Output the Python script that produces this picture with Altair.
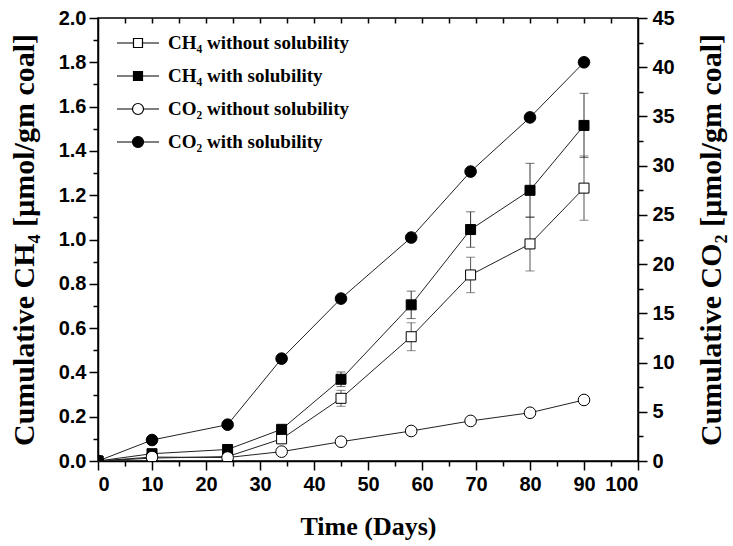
import altair as alt
import pandas as pd

# ---- data ----
days = [0, 10, 24, 34, 45, 58, 69, 80, 90]
ch4_without = [0, 0.013, 0.02, 0.10, 0.283, 0.561, 0.840, 0.980, 1.232]
ch4_without_err = [0, 0, 0, 0, 0.036, 0.063, 0.080, 0.122, 0.145]
ch4_with = [0, 0.033, 0.052, 0.143, 0.369, 0.705, 1.045, 1.222, 1.515]
ch4_with_err = [0, 0, 0, 0, 0.033, 0.062, 0.080, 0.122, 0.145]
co2_without = [0, 0.4, 0.35, 0.95, 1.96, 3.05, 4.07, 4.9, 6.2]
co2_with = [0, 2.13, 3.69, 10.4, 16.5, 22.7, 29.4, 34.9, 40.5]

series_names = ["CH\u2084 without solubility", "CH\u2084 with solubility",
                "CO\u2082 without solubility", "CO\u2082 with solubility"]
x_major = list(range(0, 101, 10))
x_minor = list(range(5, 100, 10))
x_top = list(range(5, 100, 5))
ch4_major = [round(i * 0.2, 1) for i in range(11)]
ch4_minor = [round(0.1 + i * 0.2, 1) for i in range(10)]
co2_major = list(range(0, 46, 5))
co2_minor = [2.5 + 5 * i for i in range(9)]

SANS = "Liberation Sans"
SERIF = "Liberation Serif"


def frame(vals, errs=None):
    df = pd.DataFrame({"day": days, "v": vals})
    if errs is not None:
        df["err"] = errs
        df["lo"] = df["v"] - df["err"]
        df["hi"] = df["v"] + df["err"]
        df = df[df["err"] > 0]
    return df


xscale = alt.Scale(domain=[0, 100], nice=False, zero=False)
y1scale = alt.Scale(domain=[0, 2], nice=False, zero=False)
y2scale = alt.Scale(domain=[0, 45], nice=False, zero=False)

x_none = alt.X("day:Q", scale=xscale, axis=None)

ax_bottom = alt.Axis(values=x_major, orient="bottom", tickSize=9, labelPadding=4,
                     labelFont=SANS, labelFontSize=20, labelFontWeight="bold",
                     title="Time (Days)", titleFont=SERIF, titleFontSize=26,
                     titleFontWeight="bold", titlePadding=19, format="d")
ax_bottom_minor = alt.Axis(values=x_minor, orient="bottom", tickSize=5, labels=False,
                           domain=False, title=None)
ax_top = alt.Axis(values=x_top, orient="top", tickSize=5, offset=-5, labels=False,
                  domain=False, title=None)
ax_left = alt.Axis(values=ch4_major, orient="left", tickSize=9, labelPadding=3,
                   labelFont=SANS, labelFontSize=20, labelFontWeight="bold", format=".1f",
                   title="Cumulative CH\u2084 [\u00b5mol/gm coal]", titleFont=SERIF,
                   titleFontSize=30, titleFontWeight="bold", titlePadding=19)
ax_left_minor = alt.Axis(values=ch4_minor, orient="left", tickSize=5, labels=False,
                         domain=False, title=None)
ax_right = alt.Axis(values=co2_major, orient="right", tickSize=9, labelPadding=5,
                    labelFont=SANS, labelFontSize=20, labelFontWeight="bold", format="d",
                    title="Cumulative CO\u2082 [\u00b5mol/gm coal]", titleFont=SERIF,
                    titleFontSize=30, titleFontWeight="bold", titlePadding=22,
                    titleAngle=270, titleBaseline="top")
ax_right_minor = alt.Axis(values=co2_minor, orient="right", tickSize=5, labels=False,
                          domain=False, title=None)

LINE = dict(color="#222222", strokeWidth=1)


def line(df, xaxis, yscale, yaxis):
    return alt.Chart(df).mark_line(**LINE).encode(
        x=alt.X("day:Q", scale=xscale, axis=xaxis),
        y=alt.Y("v:Q", scale=yscale, axis=yaxis),
    )


def points(df, shape, fill, size, yscale, xaxis=None):
    return alt.Chart(df).mark_point(shape=shape, filled=True, fill=fill, stroke="black",
                                    strokeWidth=1, size=size, opacity=1, clip=True).encode(
        x=alt.X("day:Q", scale=xscale, axis=xaxis),
        y=alt.Y("v:Q", scale=yscale, axis=None),
    )


def errbar(df, color):
    return alt.Chart(df).mark_errorbar(ticks={"size": 9}, color=color, thickness=1).encode(
        x=x_none,
        y=alt.Y("lo:Q", scale=y1scale, axis=None, title=None),
        y2="hi:Q",
    )


d_ch4_wo = frame(ch4_without)
d_ch4_w = frame(ch4_with)
e_ch4_wo = frame(ch4_without, ch4_without_err)
e_ch4_w = frame(ch4_with, ch4_with_err)
d_co2_wo = frame(co2_without)
d_co2_w = frame(co2_with)

ch4 = alt.layer(
    line(d_ch4_wo, ax_bottom, y1scale, ax_left),
    line(d_ch4_w, ax_bottom_minor, y1scale, ax_left_minor),
    errbar(e_ch4_wo, "#555555"),
    errbar(e_ch4_w, "#333333"),
    points(d_ch4_wo, "square", "white", 100, y1scale, xaxis=ax_top),
    points(d_ch4_w, "square", "black", 100, y1scale),
).resolve_axis(x="independent", y="independent")

co2 = alt.layer(
    line(d_co2_wo, None, y2scale, ax_right),
    line(d_co2_w, None, y2scale, ax_right_minor),
    points(d_co2_wo, "circle", "white", 135, y2scale),
    points(d_co2_w, "circle", "black", 135, y2scale),
).resolve_axis(x="independent", y="independent")

# legend symbols: line - marker - line (custom symbol paths)
sq = "M-2.1,0H-0.45M0.45,0H2.1M-0.45,-0.45H0.45V0.45H-0.45Z"
ci = ("M-2.1,0H-0.55M0.55,0H2.1M-0.55,0A0.55,0.55,0,1,0,0.55,0"
      "A0.55,0.55,0,1,0,-0.55,0Z")
legend_shapes = [sq, sq, ci, ci]
legend_fills = ["white", "black", "white", "black"]
legend_strokes = ["black", "black", "black", "black"]

leg = alt.Legend(title=None, orient="none", legendX=29, legendY=14, symbolSize=400,
                 symbolStrokeWidth=1.2, labelFont=SERIF,
                 labelFontSize=19, labelFontWeight="bold", labelColor="black",
                 labelOffset=19, rowPadding=12, padding=0, labelLimit=0)

legend_df = pd.DataFrame({"series": series_names})
legend_layer = alt.Chart(legend_df).transform_filter("false").mark_point(
    filled=False, strokeWidth=1.2, opacity=1
).encode(
    shape=alt.Shape("series:N", scale=alt.Scale(domain=series_names, range=legend_shapes),
                    legend=leg),
    fill=alt.Fill("series:N", scale=alt.Scale(domain=series_names, range=legend_fills),
                  legend=leg),
    stroke=alt.Stroke("series:N", scale=alt.Scale(domain=series_names, range=legend_strokes),
                      legend=leg),
)

chart = alt.layer(ch4, co2, legend_layer).resolve_scale(
    y="independent"
).resolve_axis(
    x="independent", y="independent"
).properties(
    width=540, height=443,
    padding={"left": 98, "top": 18, "right": 95, "bottom": 85},
    autosize="none",
    background="white",
).configure_view(
    stroke="black", strokeWidth=1.5
).configure_axis(
    grid=False, domainColor="black", tickColor="black", labelColor="black",
    titleColor="black", domainWidth=1.5, tickWidth=1.5
)

chart.save("out.html", embed_options={"renderer": "svg", "actions": False})
